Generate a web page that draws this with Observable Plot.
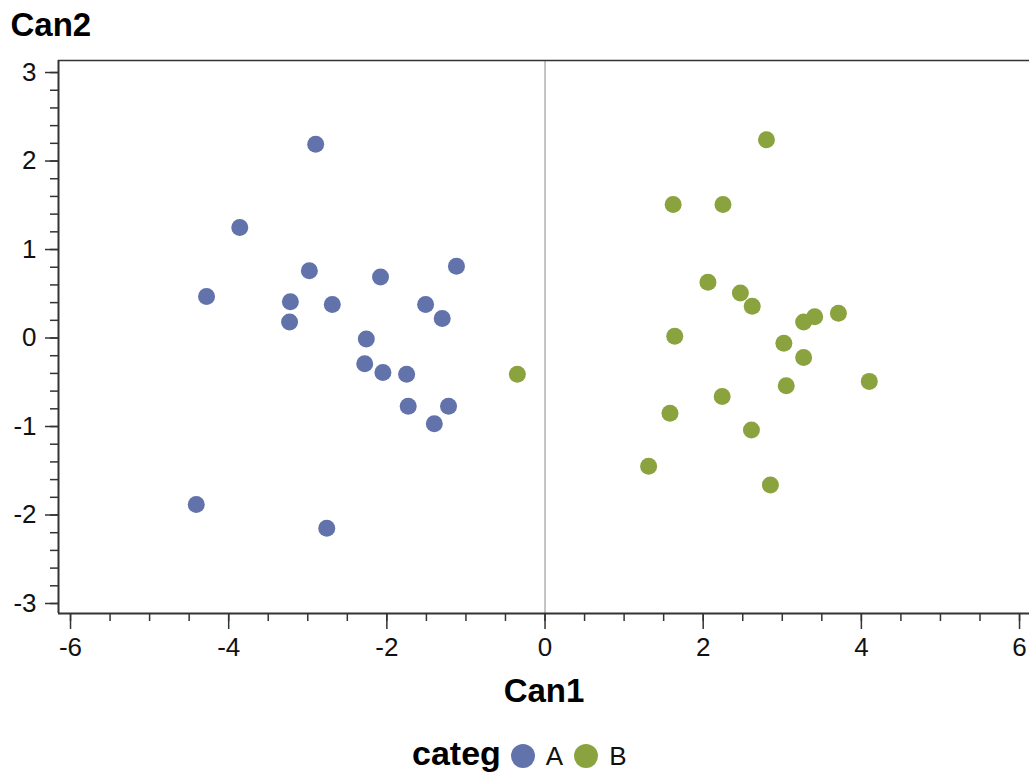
<!DOCTYPE html>
<html>
<head>
<meta charset="utf-8">
<script src="https://cdn.jsdelivr.net/npm/d3@7"></script>
<script src="https://cdn.jsdelivr.net/npm/@observablehq/plot@0.6"></script>
<style>
  body { margin: 0; background: #fff; font-family: "Liberation Sans", Arial, sans-serif; }
  #wrap { position: relative; width: 1029px; height: 773px; overflow: hidden; }
  #legend { position: absolute; top: 736px; left: 412px; display: flex; align-items: center; height: 34px; line-height: 1; }
  #legend .title { font-weight: bold; font-size: 34px; color: #000; margin-right: 10px; line-height: 1; }
  #legend .sw { width: 24px; height: 24px; border-radius: 50%; display: inline-block; margin-right: 11px; margin-top: 6px; }
  #legend .lab { font-size: 26px; color: #111; margin-right: 11px; line-height: 1; margin-top: 6px; }
</style>
</head>
<body>
<div id="wrap"><div id="chart"></div>
<div id="legend">
  <span class="title">categ</span>
  <span class="sw" style="background:#6272ab"></span><span class="lab">A</span>
  <span class="sw" style="background:#8ba33f"></span><span class="lab">B</span>
</div>
</div>
<script>
const categories = ["A", "B"];
const colors = ["#6272ab", "#8ba33f"];

const canA1 = [-2.90, -3.86, -4.28, -2.98, -3.22, -3.23, -2.69, -2.08, -1.12, -1.51, -1.30, -2.26, -2.28, -2.05, -1.75, -1.73, -1.22, -1.40, -4.41, -2.76];
const canA2 = [2.19, 1.25, 0.47, 0.76, 0.41, 0.18, 0.38, 0.69, 0.81, 0.38, 0.22, -0.01, -0.29, -0.39, -0.41, -0.77, -0.77, -0.97, -1.88, -2.15];

const canB1 = [2.80, 1.62, 2.25, 2.06, 2.47, 2.62, 3.27, 3.41, 3.71, 1.64, 3.02, 3.27, 4.10, 3.05, 2.24, 1.58, 2.61, 1.31, 2.85, -0.35];
const canB2 = [2.24, 1.51, 1.51, 0.63, 0.51, 0.36, 0.18, 0.24, 0.28, 0.02, -0.06, -0.22, -0.49, -0.54, -0.66, -0.85, -1.04, -1.45, -1.66, -0.41];

const xMajor = [-6, -4, -2, 0, 2, 4, 6];
const yMajor = [-3, -2, -1, 0, 1, 2, 3];

const data = [
  ...canA1.map((v, i) => ({Can1: v, Can2: canA2[i], categ: "A"})),
  ...canB1.map((v, i) => ({Can1: v, Can2: canB2[i], categ: "B"}))
];

const xDom = [-6.152, 6.126];
const yDom = [-3.113, 3.136];

const font = "'Liberation Sans', Arial, sans-serif";

const chart = Plot.plot({
  width: 1029,
  height: 720,
  marginLeft: 58,
  marginTop: 60,
  marginRight: 0,
  marginBottom: 107,
  style: {fontFamily: font, background: "#fff", color: "#111", overflow: "visible"},
  x: {domain: xDom, axis: null},
  y: {domain: yDom, axis: null},
  color: {domain: categories, range: colors},
  marks: [
    Plot.ruleX([0], {stroke: "#8a8a8a", strokeWidth: 1}),
    Plot.ruleY([yDom[1]], {stroke: "#333", strokeWidth: 1.5}),
    Plot.ruleY([yDom[0]], {stroke: "#333", strokeWidth: 2}),
    Plot.ruleX([xDom[0]], {stroke: "#333", strokeWidth: 2}),
    Plot.axisX({ticks: d3.range(-12, 13).map(d => d / 2), tickSize: 8, text: null, label: null, stroke: "#333", strokeWidth: 1.5}),
    Plot.axisX({ticks: xMajor, tickSize: 16, tickPadding: 8, fontSize: 26, tickFormat: d => String(d), label: null, stroke: "#333", strokeWidth: 1.5}),
    Plot.axisY({ticks: d3.range(-15, 16).map(d => d / 5), tickSize: 8, text: null, label: null, stroke: "#333", strokeWidth: 1.5}),
    Plot.axisY({ticks: yMajor, tickSize: 13, tickPadding: 9, fontSize: 26, tickFormat: d => String(d), label: null, stroke: "#333", strokeWidth: 1.5}),
    Plot.dot(data, {x: "Can1", y: "Can2", fill: "categ", r: 8.5, stroke: "none"}),
    Plot.text(["Can1"], {frameAnchor: "bottom", lineAnchor: "middle", dy: 78, fontSize: 33, fontWeight: "bold", fill: "#000"}),
    Plot.text(["Can2"], {frameAnchor: "top-left", lineAnchor: "middle", textAnchor: "start", dx: -48, dy: -35, fontSize: 33, fontWeight: "bold", fill: "#000"})
  ]
});
document.getElementById("chart").appendChild(chart);
</script>
</body>
</html>
